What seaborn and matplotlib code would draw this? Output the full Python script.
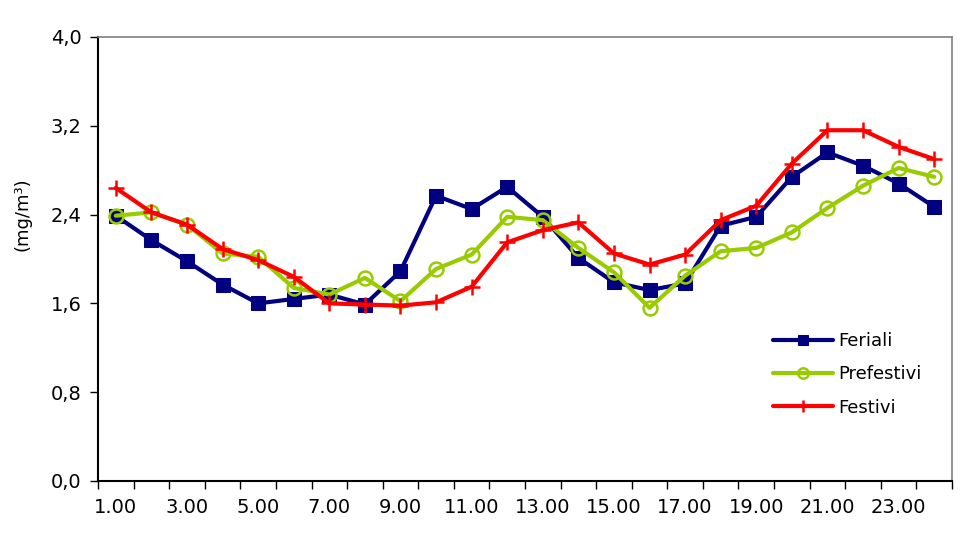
import matplotlib
matplotlib.use("Agg")
import matplotlib.pyplot as plt
import seaborn as sns
import pandas as pd
import numpy as np
from matplotlib.ticker import FixedLocator, FuncFormatter

hours = [f"{h}.00" for h in range(1, 25)]
feriali = [2.39, 2.17, 1.98, 1.77, 1.60, 1.64, 1.68, 1.59, 1.89, 2.57, 2.45, 2.65,
           2.38, 2.01, 1.79, 1.72, 1.78, 2.30, 2.38, 2.74, 2.96, 2.84, 2.68, 2.47]
prefestivi = [2.39, 2.42, 2.31, 2.05, 2.02, 1.74, 1.68, 1.83, 1.62, 1.91, 2.04, 2.38,
              2.35, 2.10, 1.88, 1.56, 1.85, 2.07, 2.10, 2.24, 2.46, 2.66, 2.82, 2.74]
festivi = [2.64, 2.42, 2.31, 2.09, 1.99, 1.84, 1.60, 1.59, 1.58, 1.61, 1.75, 2.15,
           2.26, 2.33, 2.05, 1.95, 2.04, 2.35, 2.48, 2.86, 3.16, 3.16, 3.01, 2.90]
series_names = ["Feriali", "Prefestivi", "Festivi"]
yticks = [0.0, 0.8, 1.6, 2.4, 3.2, 4.0]

sns.set_style("white")
plt.rcParams['font.family'] = ['DejaVu Sans']
plt.rcParams['text.color'] = 'black'
plt.rcParams['axes.labelcolor'] = 'black'
plt.rcParams['xtick.color'] = 'black'
plt.rcParams['ytick.color'] = 'black'

df = pd.DataFrame({"pos": np.arange(len(hours)), "hour": hours,
                   "Feriali": feriali, "Prefestivi": prefestivi, "Festivi": festivi})

fig = plt.figure(figsize=(9.65, 5.35), dpi=100)
ax = fig.add_axes([98/965, 1-481/535, (952-98)/965, (481-37)/535])

styles = {
    "Feriali": dict(color="#000080", marker="s", markersize=10.5, markerfacecolor="#000080",
                    markeredgecolor="#000080"),
    "Prefestivi": dict(color="#99CC00", marker="o", markersize=10, markerfacecolor="none",
                       markeredgecolor="#99CC00", markeredgewidth=1.8),
    "Festivi": dict(color="#FF0000", marker="+", markersize=12, markeredgewidth=1.8,
                    markeredgecolor="#FF0000"),
}
for name in series_names:
    sns.lineplot(data=df, x="pos", y=name, ax=ax, linewidth=3, label=name, **styles[name])

ax.set_xlim(-0.5, len(hours) - 0.5)
ax.set_ylim(0, 4.0)

# x: tick marks at category boundaries, labels at odd-hour centers
ax.xaxis.set_major_locator(FixedLocator(np.arange(-0.5, len(hours), 1.0)))
ax.xaxis.set_major_formatter(FuncFormatter(lambda v, p: ""))
ax.xaxis.set_minor_locator(FixedLocator(np.arange(0, len(hours), 2)))
ax.xaxis.set_minor_formatter(FuncFormatter(lambda v, p: hours[int(round(v))]))
ax.tick_params(axis="x", which="major", length=6, width=1, color="black", direction="out", bottom=True)
ax.tick_params(axis="x", which="minor", length=0, labelsize=14, pad=12, bottom=True,
               labelcolor="black")

ax.set_yticks(yticks)
ax.yaxis.set_major_formatter(FuncFormatter(lambda v, p: f"{v:.1f}".replace(".", ",")))
ax.tick_params(axis="y", length=6, width=1, color="black", direction="out", labelsize=14, pad=6,
               left=True, labelcolor="black")

ax.set_xlabel("")
ax.set_ylabel("(mg/m³)", fontsize=13, color="black")
ax.yaxis.set_label_coords(-0.078, 0.6)

for s in ["left", "bottom"]:
    ax.spines[s].set_color("black")
    ax.spines[s].set_linewidth(1.5)
for s in ["top", "right"]:
    ax.spines[s].set_color("#808080")
    ax.spines[s].set_linewidth(1.2)
    ax.spines[s].set_visible(True)

leg = ax.legend(loc="upper left", bbox_to_anchor=(0.782, 0.352), frameon=False,
                fontsize=13, handlelength=3.3, labelspacing=0.85, handletextpad=0.3,
                borderaxespad=0, markerscale=0.75)
for t in leg.get_texts():
    t.set_color("black")

fig.savefig("out.png", dpi=100)
